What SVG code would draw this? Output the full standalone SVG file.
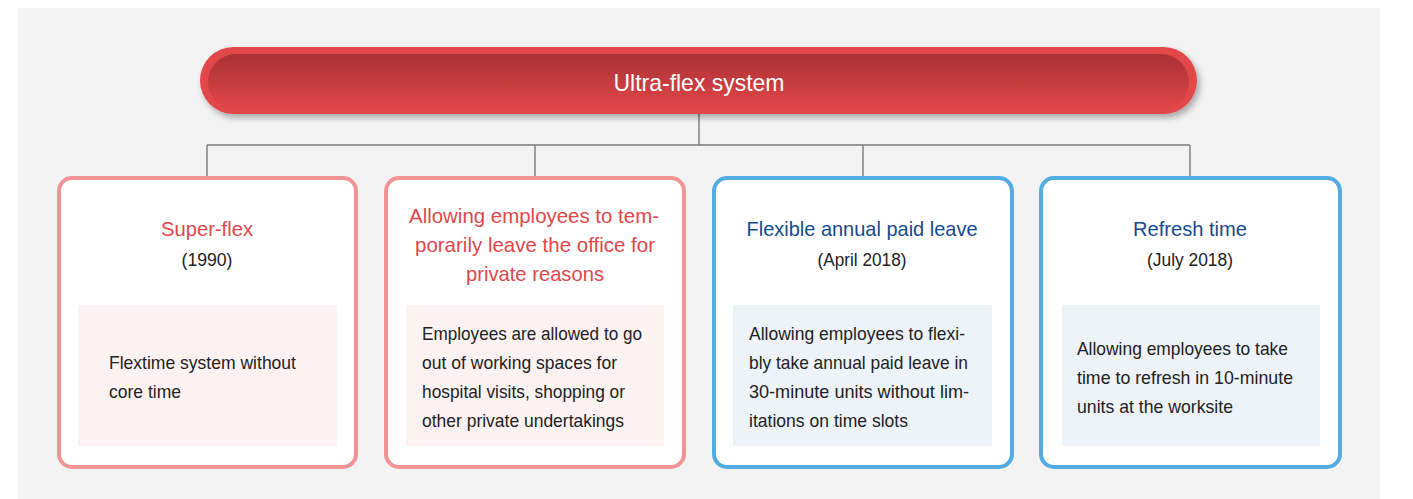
<svg xmlns="http://www.w3.org/2000/svg" width="1413" height="499" viewBox="0 0 1413 499">
<defs>
<linearGradient id="barGrad" x1="0" y1="0" x2="0" y2="1">
<stop offset="0" stop-color="#a93134"/>
<stop offset="1" stop-color="#e2474a"/>
</linearGradient>
<filter id="shadow" x="-5%" y="-30%" width="110%" height="170%">
<feDropShadow dx="3" dy="4" stdDeviation="3" flood-color="#000" flood-opacity="0.3"/>
</filter>
<style>
.bg{fill:#f3f3f3}
.conn{stroke:#7a7a7a;stroke-width:1.4;fill:none}
.cardR{fill:#fff;stroke:#f09496;stroke-width:4}
.cardB{fill:#fff;stroke:#52abe1;stroke-width:4}
.boxR{fill:#fdf2f2}
.boxB{fill:#edf3f9}
text{font-family:"Liberation Sans",Arial,sans-serif}
.head{fill:#fff;font-size:24px;text-anchor:middle}
.titleR{fill:#e0474b;font-size:21px;text-anchor:middle}
.titleB{fill:#164a8e;font-size:21px;text-anchor:middle}
.date{fill:#222;font-size:18px;text-anchor:middle}
.body{fill:#222;font-size:19px}
</style>
</defs>
<rect class="bg" x="18" y="8" width="1362" height="491"/>
<g id="connectors">
<path class="conn" d="M699 112 V145 M207 145 H1190 M207 145 V177 M535 145 V177 M863 145 V177 M1190 145 V177"/>
</g>
<g id="ultra-flex">
<rect x="200" y="47" width="997" height="67" rx="33.5" fill="#e2474a" filter="url(#shadow)"/>
<rect x="208" y="54" width="981" height="56" rx="28" fill="url(#barGrad)"/>
<text class="head" x="699" y="91" textLength="171" lengthAdjust="spacingAndGlyphs">Ultra-flex system</text>
</g>
<g id="super-flex">
<rect class="cardR" x="59" y="178" width="297" height="289" rx="13"/>
<rect class="boxR" x="78" y="305" width="259" height="141"/>
<text class="titleR" x="207" y="236" textLength="92" lengthAdjust="spacingAndGlyphs">Super-flex</text>
<text class="date" x="207" y="266" textLength="51" lengthAdjust="spacingAndGlyphs">(1990)</text>
<text class="body" x="109" y="369" textLength="187" lengthAdjust="spacingAndGlyphs">Flextime system without</text>
<text class="body" x="109" y="398" textLength="72" lengthAdjust="spacingAndGlyphs">core time</text>
</g>
<g id="temporary-leave">
<rect class="cardR" x="386" y="178" width="298" height="289" rx="13"/>
<rect class="boxR" x="406" y="305" width="258" height="141"/>
<text class="titleR" x="534" y="223" textLength="250" lengthAdjust="spacingAndGlyphs">Allowing employees to tem-</text>
<text class="titleR" x="535" y="252" textLength="240" lengthAdjust="spacingAndGlyphs">porarily leave the office for</text>
<text class="titleR" x="535" y="281" textLength="138" lengthAdjust="spacingAndGlyphs">private reasons</text>
<text class="body" x="422" y="340" textLength="220" lengthAdjust="spacingAndGlyphs">Employees are allowed to go</text>
<text class="body" x="422" y="369" textLength="195" lengthAdjust="spacingAndGlyphs">out of working spaces for</text>
<text class="body" x="422" y="398" textLength="203" lengthAdjust="spacingAndGlyphs">hospital visits, shopping or</text>
<text class="body" x="422" y="427" textLength="202" lengthAdjust="spacingAndGlyphs">other private undertakings</text>
</g>
<g id="annual-leave">
<rect class="cardB" x="714" y="178" width="298" height="289" rx="13"/>
<rect class="boxB" x="733" y="305" width="259" height="141"/>
<text class="titleB" x="862" y="236" textLength="231" lengthAdjust="spacingAndGlyphs">Flexible annual paid leave</text>
<text class="date" x="862" y="266" textLength="89" lengthAdjust="spacingAndGlyphs">(April 2018)</text>
<text class="body" x="749" y="340" textLength="216" lengthAdjust="spacingAndGlyphs">Allowing employees to flexi-</text>
<text class="body" x="749" y="369" textLength="219" lengthAdjust="spacingAndGlyphs">bly take annual paid leave in</text>
<text class="body" x="749" y="398" textLength="220" lengthAdjust="spacingAndGlyphs">30-minute units without lim-</text>
<text class="body" x="749" y="427" textLength="159" lengthAdjust="spacingAndGlyphs">itations on time slots</text>
</g>
<g id="refresh-time">
<rect class="cardB" x="1041" y="178" width="299" height="289" rx="13"/>
<rect class="boxB" x="1062" y="305" width="258" height="141"/>
<text class="titleB" x="1190" y="236" textLength="114" lengthAdjust="spacingAndGlyphs">Refresh time</text>
<text class="date" x="1190" y="266" textLength="86" lengthAdjust="spacingAndGlyphs">(July 2018)</text>
<text class="body" x="1077" y="355" textLength="211" lengthAdjust="spacingAndGlyphs">Allowing employees to take</text>
<text class="body" x="1077" y="384" textLength="216" lengthAdjust="spacingAndGlyphs">time to refresh in 10-minute</text>
<text class="body" x="1077" y="413" textLength="156" lengthAdjust="spacingAndGlyphs">units at the worksite</text>
</g>
</svg>
